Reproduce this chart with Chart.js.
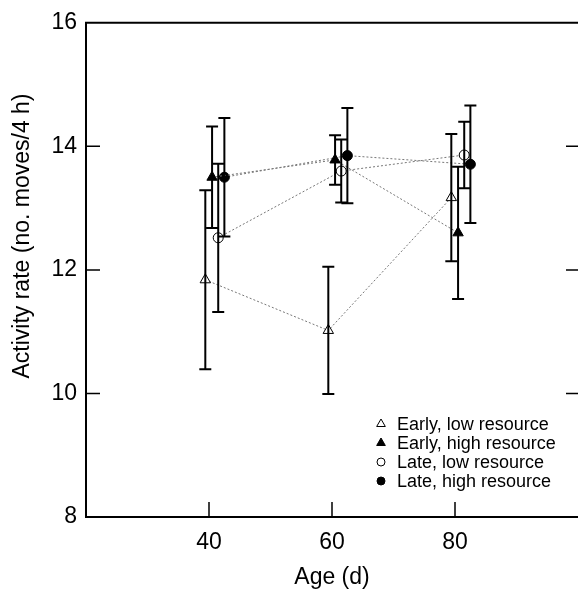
<!DOCTYPE html>
<html>
<head>
<meta charset="utf-8">
<script src="https://cdn.jsdelivr.net/npm/chart.js@4"></script>
<style>
  html, body { margin: 0; padding: 0; background: #fff; overflow: hidden; }
</style>
</head>
<body>
<canvas id="chart" width="578" height="591"></canvas>
<script>
// ages (d) and axis ticks
const ages = [40, 60, 80];
const xTicks = [40, 60, 80];
const yTicks = [8, 10, 12, 14, 16];

const seriesNames = ["Early, low resource", "Early, high resource", "Late, low resource", "Late, high resource"];
const yTitle = "Activity rate (no. moves/4 h)";

// mean activity rate (no. moves/4 h) and error bar half-length
const earlyLow = [11.84, 11.02, 13.17];
const earlyLowErr = [1.45, 1.03, 1.03];
const earlyHigh = [13.5, 13.78, 12.6];
const earlyHighErr = [0.82, 0.4, 1.07];
const lateLow = [12.52, 13.6, 13.86];
const lateLowErr = [1.2, 0.51, 0.54];
const lateHigh = [13.5, 13.85, 13.71];
const lateHighErr = [0.96, 0.77, 0.95];

const FONT = "'Liberation Sans', Arial, Helvetica, sans-serif";

// small sideways shift (in days) so the groups don't sit on top of each other
function makeSeries(label, values, err, dodge, style, filled) {
  return {
    label: label,
    data: values.map((v, i) => ({ x: ages[i] + dodge, y: v })),
    err: err,
    showLine: true,
    borderColor: "#777",
    borderWidth: 1,
    borderDash: [2, 2],
    pointStyle: style,
    pointRadius: style === "triangle" ? 6 : 5,
    pointBackgroundColor: filled ? "#000" : "#fff",
    pointBorderColor: "#000",
    pointBorderWidth: 1,
    fill: false,
  };
}

const errorBars = {
  id: "errorBars",
  afterDatasetsDraw(chart) {
    const { ctx, scales: { x, y } } = chart;
    ctx.save();
    ctx.strokeStyle = "#000";
    ctx.lineWidth = 2;
    chart.data.datasets.forEach((ds) => {
      ds.data.forEach((p, i) => {
        const px = x.getPixelForValue(p.x);
        const top = y.getPixelForValue(p.y + ds.err[i]);
        const bot = y.getPixelForValue(p.y - ds.err[i]);
        ctx.beginPath();
        ctx.moveTo(px, top); ctx.lineTo(px, bot);
        ctx.moveTo(px - 6, top); ctx.lineTo(px + 6, top);
        ctx.moveTo(px - 6, bot); ctx.lineTo(px + 6, bot);
        ctx.stroke();
      });
    });
    ctx.restore();
  },
};

// top border, inward tick marks, y title
const frame = {
  id: "frame",
  afterDraw(chart) {
    const { ctx, chartArea: a, scales: { x, y } } = chart;
    ctx.save();
    ctx.strokeStyle = "#000";
    ctx.lineWidth = 2;
    ctx.beginPath();
    ctx.moveTo(a.left - 1, a.top);
    ctx.lineTo(chart.width, a.top);
    ctx.stroke();
    ctx.lineWidth = 1.5;
    ctx.beginPath();
    yTicks.slice(1, -1).forEach((v) => {
      const py = y.getPixelForValue(v);
      ctx.moveTo(a.left, py); ctx.lineTo(a.left + 14, py);
      ctx.moveTo(chart.width - 12, py); ctx.lineTo(chart.width, py);
    });
    xTicks.forEach((v) => {
      const px = x.getPixelForValue(v);
      ctx.moveTo(px, a.bottom); ctx.lineTo(px, a.bottom - 15);
    });
    ctx.stroke();

    ctx.translate(23, 236);
    ctx.rotate(-Math.PI / 2);
    ctx.font = "23px " + FONT;
    ctx.fillStyle = "#000";
    ctx.textAlign = "center";
    ctx.textBaseline = "middle";
    ctx.fillText(yTitle, 0, 0);
    ctx.restore();
  },
};

const legendBox = {
  id: "legendBox",
  afterDraw(chart) {
    const { ctx } = chart;
    ctx.save();
    ctx.font = "18px " + FONT;
    ctx.textBaseline = "middle";
    chart.data.datasets.forEach((ds, i) => {
      const cy = 424 + i * 19;
      ctx.fillStyle = ds.pointBackgroundColor;
      ctx.strokeStyle = "#000";
      ctx.lineWidth = 1;
      Chart.helpers.drawPoint(ctx, {
        pointStyle: ds.pointStyle,
        radius: ds.pointStyle === "triangle" ? 5 : 4,
        borderWidth: 1,
        rotation: 0,
      }, 381, cy);
      ctx.fillStyle = "#000";
      ctx.fillText(ds.label, 397, cy + 1);
    });
    ctx.restore();
  },
};

const ctx = document.getElementById("chart").getContext("2d");
const chart = new Chart(ctx, {
  type: "scatter",
  data: {
    datasets: [
      makeSeries(seriesNames[0], earlyLow, earlyLowErr, -0.6, "triangle", false),
      makeSeries(seriesNames[1], earlyHigh, earlyHighErr, 0.5, "triangle", true),
      makeSeries(seriesNames[2], lateLow, lateLowErr, 1.5, "circle", false),
      makeSeries(seriesNames[3], lateHigh, lateHighErr, 2.5, "circle", true),
    ],
  },
  options: {
    responsive: false,
    animation: false,
    devicePixelRatio: 1,
    layout: { autoPadding: false, padding: { top: 21, right: 0, left: 0, bottom: 0 } },
    plugins: {
      legend: { display: false },
      tooltip: { enabled: false },
    },
    scales: {
      x: {
        type: "linear",
        min: 20,
        max: 100,
        afterBuildTicks: (s) => { s.ticks = xTicks.map((v) => ({ value: v })); },
        afterFit: (s) => { s.height = 74; },
        grid: { display: false, drawTicks: false },
        border: { color: "#000", width: 2 },
        ticks: { color: "#000", font: { size: 23, family: FONT }, padding: 12 },
        title: { display: true, text: "Age (d)", color: "#000", font: { size: 23, family: FONT }, padding: { top: 4, bottom: 0 } },
      },
      y: {
        min: 8,
        max: 16,
        afterBuildTicks: (s) => { s.ticks = yTicks.map((v) => ({ value: v })); },
        afterFit: (s) => { s.width = 86; },
        grid: { display: false, drawTicks: false },
        border: { color: "#000", width: 2 },
        ticks: { color: "#000", font: { size: 23, family: FONT }, padding: 9 },
        title: { display: false },
      },
    },
  },
  plugins: [errorBars, frame, legendBox],
});
</script>
</body>
</html>
